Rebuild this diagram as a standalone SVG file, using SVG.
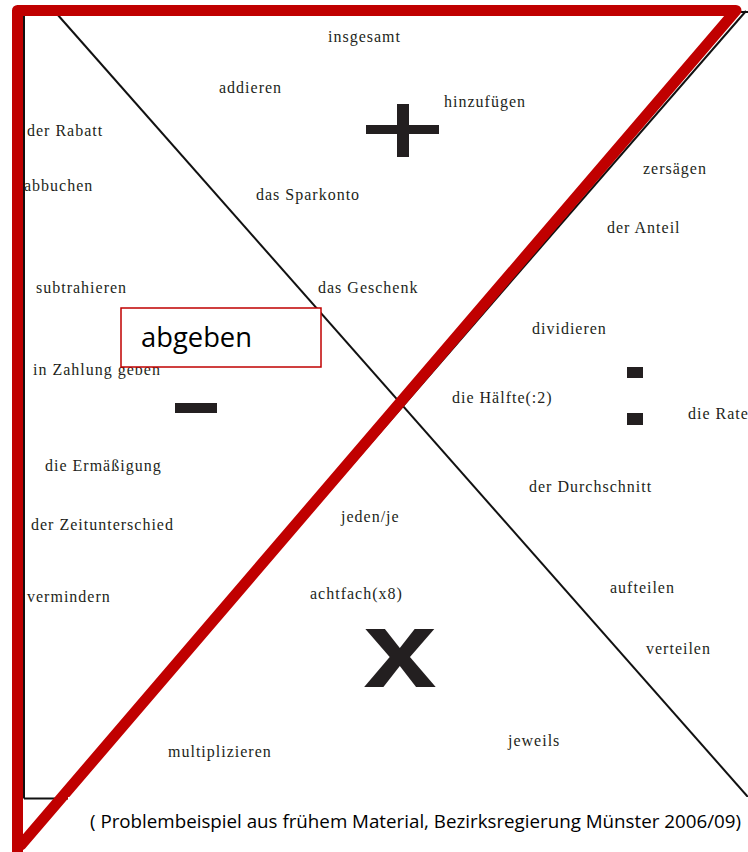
<svg xmlns="http://www.w3.org/2000/svg" width="748" height="852" viewBox="0 0 748 852">
<style>
.w{font-family:"Liberation Serif","Times New Roman",serif;font-size:16px;letter-spacing:1px;fill:#231f20}
.ln{stroke:#111;stroke-width:2;fill:none}
.sym{fill:#231f20}
</style>
<rect width="748" height="852" fill="#fff"/>
<g id="connectors">
<line class="ln" x1="24" y1="12" x2="748" y2="12"/>
<line class="ln" x1="24" y1="12" x2="24" y2="798.5"/>
<line class="ln" x1="24" y1="798.5" x2="748" y2="798.5"/>
<line class="ln" x1="57" y1="14" x2="748" y2="797"/>
<line class="ln" x1="746" y1="11" x2="62" y2="798.5"/>
<polyline points="17.5,852 17.5,10.5 736,10.5 21,845" fill="none" stroke="#c00000" stroke-width="11" stroke-linejoin="round" stroke-linecap="round"/>
</g>
<g id="symbols">
<g id="plus"><rect class="sym" x="366" y="125" width="73" height="9"/><rect class="sym" x="397" y="104" width="12" height="53"/></g>
<g id="minus"><rect class="sym" x="175" y="403" width="42" height="10"/></g>
<g id="divide"><rect class="sym" x="627" y="367" width="16" height="11"/><rect class="sym" x="627" y="413" width="16" height="12"/></g>
<g id="times"><text transform="translate(400,687) scale(1.2,1)" text-anchor="middle" font-family="Liberation Sans, Arial, sans-serif" font-weight="bold" font-size="110" fill="#231f20">x</text></g>
</g>
<g id="words">
<text class="w" x="328" y="42">insgesamt</text>
<text class="w" x="219" y="93">addieren</text>
<text class="w" x="444" y="107">hinzufügen</text>
<text class="w" x="27" y="136">der Rabatt</text>
<text class="w" x="24" y="191">abbuchen</text>
<text class="w" x="256" y="200">das Sparkonto</text>
<text class="w" x="643" y="174">zersägen</text>
<text class="w" x="607" y="233">der Anteil</text>
<text class="w" x="36" y="293">subtrahieren</text>
<text class="w" x="318" y="293">das Geschenk</text>
<text class="w" x="532" y="334">dividieren</text>
<text class="w" x="33" y="375">in Zahlung geben</text>
<text class="w" x="452" y="403">die Hälfte(:2)</text>
<text class="w" x="688" y="419">die Rate</text>
<text class="w" x="45" y="471">die Ermäßigung</text>
<text class="w" x="529" y="492">der Durchschnitt</text>
<text class="w" x="31" y="530">der Zeitunterschied</text>
<text class="w" x="341" y="522">jeden/je</text>
<text class="w" x="27" y="602">vermindern</text>
<text class="w" x="310" y="599">achtfach(x8)</text>
<text class="w" x="610" y="593">aufteilen</text>
<text class="w" x="646" y="654">verteilen</text>
<text class="w" x="168" y="757">multiplizieren</text>
<text class="w" x="508" y="746">jeweils</text>
</g>
<g id="abgeben">
<rect x="121" y="308" width="200" height="59" fill="#fff" stroke="#c00000" stroke-width="1.5"/>
<text x="141" y="347" font-family="Open Sans, Liberation Sans, sans-serif" font-size="27" fill="#000" textLength="111" lengthAdjust="spacingAndGlyphs">abgeben</text>
</g>
<g id="caption">
<rect x="68" y="797" width="680" height="55" fill="#fff"/>
<text x="90" y="828" font-family="Open Sans, Liberation Sans, sans-serif" font-size="17.5" fill="#000" textLength="651" lengthAdjust="spacingAndGlyphs">( Problembeispiel aus frühem Material, Bezirksregierung Münster 2006/09)</text>
</g>
</svg>
